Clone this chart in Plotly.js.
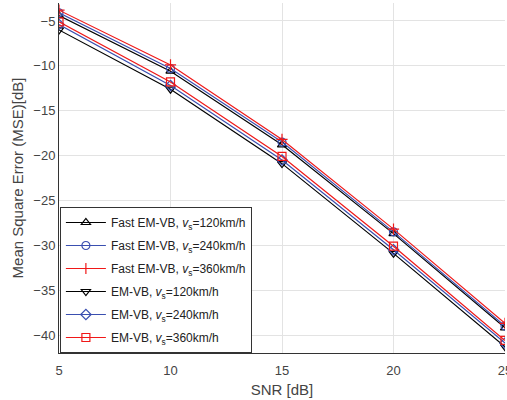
<!DOCTYPE html>
<html>
<head>
<meta charset="utf-8">
<script src="https://cdn.plot.ly/plotly-3.0.1.min.js"></script>
<style>html,body{margin:0;padding:0;background:#fff}#chart{width:507px;height:400px}</style>
</head>
<body>
<div id="chart"></div>
<script>
const snr = [5, 10, 15, 20, 25];
const fast120 = [-4.4, -10.6, -18.8, -28.7, -39.2];
const fast240 = [-4.1, -10.3, -18.5, -28.5, -39.0];
const fast360 = [-3.8, -9.9, -18.2, -28.2, -38.7];
const em120 = [-6.0, -12.6, -20.9, -30.9, -41.3];
const em240 = [-5.4, -12.2, -20.5, -30.5, -40.9];
const em360 = [-5.1, -11.8, -20.1, -30.1, -40.6];
const xTicks = [5, 10, 15, 20, 25];
const yTicks = [-5, -10, -15, -20, -25, -30, -35, -40];
const names = [
  'Fast EM-VB, <i>v</i><sub>s</sub>=120km/h',
  'Fast EM-VB, <i>v</i><sub>s</sub>=240km/h',
  'Fast EM-VB, <i>v</i><sub>s</sub>=360km/h',
  'EM-VB, <i>v</i><sub>s</sub>=120km/h',
  'EM-VB, <i>v</i><sub>s</sub>=240km/h',
  'EM-VB, <i>v</i><sub>s</sub>=360km/h'
];
const series = [fast120, fast240, fast360, em120, em240, em360];
const colors = ['#000000', '#3a4fb0', '#f01818', '#000000', '#3a4fb0', '#f01818'];
const symbols = ['triangle-up-open', 'circle-open', 'cross-thin-open', 'triangle-down-open', 'diamond-open', 'square-open'];

const traces = series.map((s, i) => ({
  x: snr, y: s, name: names[i], type: 'scatter', mode: 'lines+markers',
  legendgroup: 'g' + i,
  line: {color: colors[i], width: 1.2},
  marker: {symbol: symbols[i], size: 8, color: colors[i], line: {color: colors[i], width: 1.2}}
}));

const layout = {
  width: 507, height: 400,
  margin: {l: 59, r: 2, t: 3, b: 47},
  paper_bgcolor: '#fff', plot_bgcolor: '#fff',
  font: {family: 'Liberation Sans, Arial, sans-serif', size: 13, color: '#444'},
  xaxis: {
    range: [5, 25], tickvals: xTicks, ticktext: xTicks.map(String),
    showgrid: true, gridcolor: '#e3e3e3', zeroline: false,
    showline: true, linecolor: '#333', linewidth: 1, mirror: false,
    ticks: '', tickfont: {size: 13, color: '#444'}, ticklabeloverflow: 'allow',
    ticklabelstandoff: 5,
    title: {text: 'SNR [dB]', font: {size: 15, color: '#444'}, standoff: 7}
  },
  yaxis: {
    range: [-42, -3], tickvals: yTicks,
    showgrid: true, gridcolor: '#e3e3e3', zeroline: false,
    showline: true, linecolor: '#333', linewidth: 1,
    ticks: '', tickfont: {size: 13, color: '#444'},
    title: {text: 'Mean Square Error (MSE)[dB]', font: {size: 15, color: '#444'}, standoff: 6}
  },
  showlegend: true,
  legend: {
    x: 0.002, y: 0, xanchor: 'left', yanchor: 'bottom',
    bgcolor: '#fff', bordercolor: '#333', borderwidth: 1,
    font: {size: 12, color: '#222'}, traceorder: 'grouped', tracegroupgap: 4, itemwidth: 40
  }
};
Plotly.newPlot('chart', traces, layout, {displayModeBar: false, staticPlot: true});
</script>
</body>
</html>
